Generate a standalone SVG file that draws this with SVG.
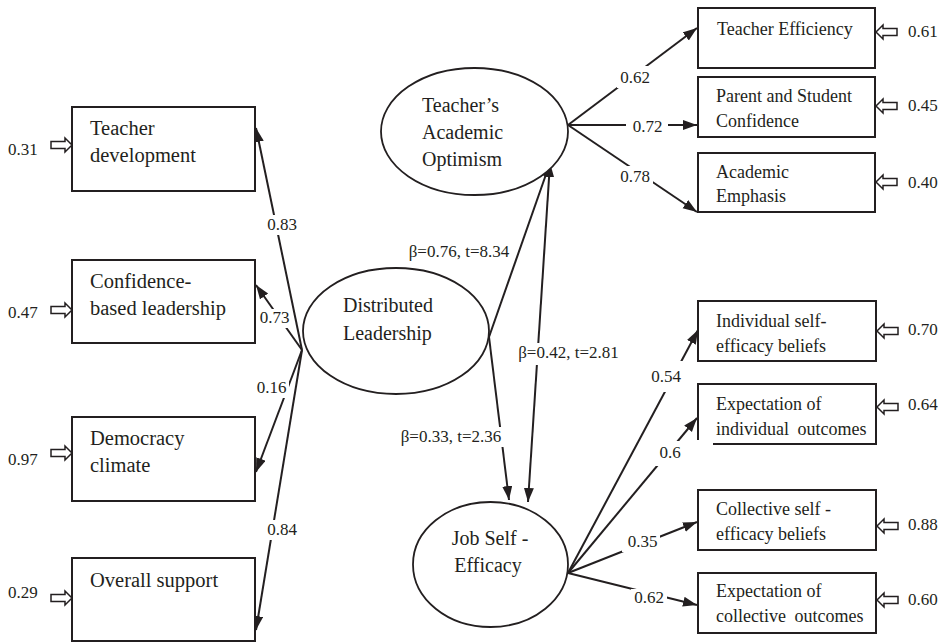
<svg xmlns="http://www.w3.org/2000/svg" width="946" height="642" viewBox="0 0 946 642">
<style>
.bl{font-size:20.5px}
.br{font-size:18px}
.el{font-size:20px}
.lb{font-size:17px}
.box{fill:#fff;stroke:#231f20;stroke-width:2}
.ell{fill:#fff;stroke:#231f20;stroke-width:1.8}
.cn{stroke:#231f20;stroke-width:2;fill:none}
.bg{fill:#fff}
.ha{fill:#fff;stroke:#231f20;stroke-width:1.5}
</style>
<defs>
<marker id="ah" markerUnits="userSpaceOnUse" markerWidth="15" markerHeight="11" refX="14" refY="5" orient="auto-start-reverse" viewBox="0 0 15 11">
<path d="M0,0 L14,5 L0,10 Z" fill="#231f20"/>
</marker>
<path id="hollow" class="ha" d="M-21,-3.5 H-7 V-7 L0,0 L-7,7 V3.5 H-21 Z"/>
</defs>
<rect width="946" height="642" fill="#fff"/>
<g font-family="Liberation Serif, Tinos, Times New Roman, Noto Serif, DejaVu Serif, FreeSerif, serif" fill="#231f20">
<g id="connectors">
<line class="cn" x1="302" y1="350" x2="256" y2="128" marker-end="url(#ah)"/>
<line class="cn" x1="302" y1="350" x2="256" y2="285" marker-end="url(#ah)"/>
<line class="cn" x1="302" y1="350" x2="256" y2="472" marker-end="url(#ah)"/>
<line class="cn" x1="302" y1="350" x2="256" y2="630" marker-end="url(#ah)"/>
<line class="cn" x1="489" y1="337" x2="550" y2="163" marker-end="url(#ah)"/>
<line class="cn" x1="489" y1="337" x2="509" y2="500" marker-end="url(#ah)"/>
<line class="cn" x1="550" y1="163" x2="528" y2="502" marker-start="url(#ah)" marker-end="url(#ah)"/>
<line class="cn" x1="568" y1="125" x2="697" y2="28" marker-end="url(#ah)"/>
<line class="cn" x1="568" y1="125" x2="697" y2="125" marker-end="url(#ah)"/>
<line class="cn" x1="568" y1="125" x2="697" y2="212" marker-end="url(#ah)"/>
<line class="cn" x1="568" y1="573" x2="698" y2="330" marker-end="url(#ah)"/>
<line class="cn" x1="568" y1="573" x2="697" y2="418" marker-end="url(#ah)"/>
<line class="cn" x1="568" y1="573" x2="697" y2="522" marker-end="url(#ah)"/>
<line class="cn" x1="568" y1="573" x2="697" y2="605" marker-end="url(#ah)"/>

<rect class="bg" x="265" y="215" width="34" height="20"/>
<text class="lb" x="282" y="230" text-anchor="middle">0.83</text>
<rect class="bg" x="258" y="309" width="34" height="19"/>
<text class="lb" x="274.5" y="323" text-anchor="middle">0.73</text>
<rect class="bg" x="256" y="378" width="33" height="20"/>
<text class="lb" x="271.5" y="393" text-anchor="middle">0.16</text>
<rect class="bg" x="265" y="520" width="34" height="20"/>
<text class="lb" x="282" y="535" text-anchor="middle">0.84</text>

<rect class="bg" x="404" y="242" width="110" height="20"/>
<text class="lb" x="459" y="257" text-anchor="middle">β=0.76, t=8.34</text>
<rect class="bg" x="515" y="343" width="108" height="22"/>
<text class="lb" x="568.5" y="358" text-anchor="middle">β=0.42, t=2.81</text>
<rect class="bg" x="395" y="427" width="112" height="20"/>
<text class="lb" x="451" y="442" text-anchor="middle">β=0.33, t=2.36</text>

<rect class="bg" x="617" y="66" width="36" height="22"/>
<text class="lb" x="635" y="83" text-anchor="middle">0.62</text>
<rect class="bg" x="626" y="116" width="42" height="20"/>
<text class="lb" x="647.5" y="132" text-anchor="middle">0.72</text>
<rect class="bg" x="617" y="166" width="36" height="20"/>
<text class="lb" x="635" y="182" text-anchor="middle">0.78</text>

<rect class="bg" x="648" y="361" width="36" height="31"/>
<text class="lb" x="666" y="382" text-anchor="middle">0.54</text>
<rect class="bg" x="655" y="441" width="30" height="25"/>
<text class="lb" x="670" y="458" text-anchor="middle">0.6</text>
<rect class="bg" x="622" y="532" width="38" height="20"/>
<text class="lb" x="642.5" y="547" text-anchor="middle">0.35</text>
<rect class="bg" x="631" y="589" width="36" height="19"/>
<text class="lb" x="649" y="603" text-anchor="middle">0.62</text>
</g>

<g id="n-teacher-development">
<rect class="box" x="72" y="107" width="183" height="84"/>
<text class="bl" x="90" y="135">Teacher</text>
<text class="bl" x="90" y="162">development</text>
<use href="#hollow" transform="translate(72,145)"/>
<text class="lb" x="8" y="155">0.31</text>
</g>
<g id="n-confidence-leadership">
<rect class="box" x="72" y="260" width="183" height="83"/>
<text class="bl" x="90" y="288">Confidence-</text>
<text class="bl" x="90" y="315">based leadership</text>
<use href="#hollow" transform="translate(72,310)"/>
<text class="lb" x="8" y="318">0.47</text>
</g>
<g id="n-democracy-climate">
<rect class="box" x="72" y="417" width="183" height="84"/>
<text class="bl" x="90" y="445">Democracy</text>
<text class="bl" x="90" y="472">climate</text>
<use href="#hollow" transform="translate(72,453)"/>
<text class="lb" x="8" y="465">0.97</text>
</g>
<g id="n-overall-support">
<rect class="box" x="72" y="558" width="183" height="83"/>
<text class="bl" x="90" y="587">Overall support</text>
<use href="#hollow" transform="translate(72,598)"/>
<text class="lb" x="8" y="598">0.29</text>
</g>

<g id="n-distributed-leadership">
<ellipse class="ell" cx="396" cy="331" rx="93" ry="63"/>
<text class="el" x="343" y="312">Distributed</text>
<text class="el" x="343" y="340">Leadership</text>
</g>
<g id="n-academic-optimism">
<ellipse class="ell" cx="474.5" cy="131.5" rx="93.5" ry="63.5"/>
<text class="el" x="422" y="112">Teacher’s</text>
<text class="el" x="422" y="139">Academic</text>
<text class="el" x="422" y="166">Optimism</text>
</g>
<g id="n-job-self-efficacy">
<ellipse class="ell" cx="490.5" cy="564.5" rx="77.5" ry="62.5"/>
<text class="el" x="490" y="545" text-anchor="middle">Job Self -</text>
<text class="el" x="488" y="572" text-anchor="middle">Efficacy</text>
</g>

<g id="n-teacher-efficiency">
<rect class="box" x="698" y="8" width="177" height="60"/>
<text class="br" x="717" y="35">Teacher Efficiency</text>
<use href="#hollow" transform="translate(876,32) scale(-1,1)"/>
<text class="lb" x="908" y="37">0.61</text>
</g>
<g id="n-parent-student">
<rect class="box" x="698" y="77" width="177" height="60"/>
<text class="br" x="716" y="102">Parent and Student</text>
<text class="br" x="716" y="127">Confidence</text>
<use href="#hollow" transform="translate(876,106) scale(-1,1)"/>
<text class="lb" x="908" y="111">0.45</text>
</g>
<g id="n-academic-emphasis">
<rect class="box" x="698" y="153" width="177" height="59"/>
<text class="br" x="716" y="178">Academic</text>
<text class="br" x="716" y="202">Emphasis</text>
<use href="#hollow" transform="translate(876,182) scale(-1,1)"/>
<text class="lb" x="908" y="188">0.40</text>
</g>

<g id="n-individual-self-efficacy">
<rect class="box" x="698" y="301" width="178" height="60"/>
<text class="br" x="716" y="327">Individual self-</text>
<text class="br" x="716" y="352">efficacy beliefs</text>
<use href="#hollow" transform="translate(877,331) scale(-1,1)"/>
<text class="lb" x="908" y="335">0.70</text>
</g>
<g id="n-individual-outcomes">
<path class="box" d="M713,444 H876 V384 H698 V440"/>
<text class="br" x="716" y="410">Expectation of</text>
<text class="br" x="716" y="435" word-spacing="4">individual outcomes</text>
<use href="#hollow" transform="translate(877,407) scale(-1,1)"/>
<text class="lb" x="908" y="410">0.64</text>
</g>
<g id="n-collective-self-efficacy">
<rect class="box" x="698" y="490" width="178" height="60"/>
<text class="br" x="716" y="515">Collective self -</text>
<text class="br" x="716" y="540">efficacy beliefs</text>
<use href="#hollow" transform="translate(877,526) scale(-1,1)"/>
<text class="lb" x="908" y="530">0.88</text>
</g>
<g id="n-collective-outcomes">
<rect class="box" x="698" y="573" width="178" height="60"/>
<text class="br" x="716" y="597">Expectation of</text>
<text class="br" x="716" y="622" word-spacing="4">collective outcomes</text>
<use href="#hollow" transform="translate(877,600) scale(-1,1)"/>
<text class="lb" x="908" y="605">0.60</text>
</g>
</g>
</svg>
